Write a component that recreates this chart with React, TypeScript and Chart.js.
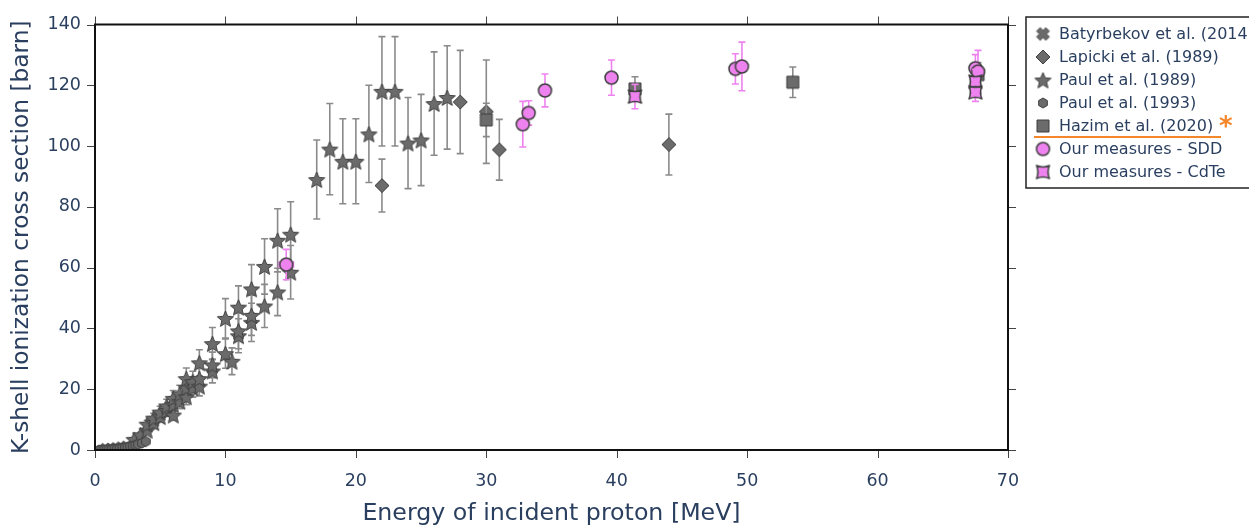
import React, { useEffect, useRef } from "react";
import { Chart, registerables } from "chart.js";

Chart.register(...registerables);

// ---------------- data ----------------
const batE = [0.8, 1.2, 1.6, 2.0, 2.4];
const batS = [0.1, 0.2, 0.35, 0.6, 0.9];
const batErr = [0.02, 0.03, 0.05, 0.08, 0.1];

const lapE = [22, 28, 30, 31, 44];
const lapS = [87, 114.5, 111.3, 98.8, 100.5];
const lapErr = [8.7, 17, 17, 10, 10];

const p89E = [3.0, 3.5, 4.0, 4.0, 4.5, 4.5, 5.0, 5.0, 5.5, 5.5, 6.0, 6.0, 6.0, 6.5, 6.5, 7.0, 7.0, 7.0, 7.5, 7.5, 8.0, 8.0, 8.0, 9.0, 9.0, 9.0, 10.0, 10.0, 10.5, 11.0, 11.0, 11.0, 12.0, 12.0, 12.0, 13.0, 13.0, 14.0, 14.0, 15.0, 15.0, 17, 18, 19, 20, 21, 22, 23, 24, 25, 26, 27];
const p89S = [3.5, 5.0, 6.5, 8.5, 9.0, 10.5, 11.0, 12.5, 13.0, 14.5, 11.5, 15.0, 17.0, 16.0, 18.5, 17.5, 20.5, 23.5, 20.5, 22.5, 21.0, 23.5, 28.7, 26.0, 28.0, 35.0, 31.7, 43.3, 29.2, 37.6, 39.2, 47.0, 42.0, 44.3, 53.0, 47.4, 60.4, 52.0, 69.0, 58.5, 71.0, 89, 99, 95, 95, 104, 118, 118, 101, 102, 114, 116];
const p89Err = [0.5, 0.8, 1.0, 1.3, 1.4, 1.6, 1.7, 1.9, 2.0, 2.2, 1.7, 2.3, 2.6, 2.4, 2.8, 2.6, 3.1, 3.5, 3.1, 3.4, 3.2, 3.5, 4.3, 3.9, 4.2, 5.3, 4.8, 6.5, 4.4, 5.6, 5.9, 7.0, 6.3, 6.6, 8.0, 7.1, 9.1, 7.8, 10.4, 8.8, 10.7, 13, 15, 14, 14, 16, 18, 18, 15, 15, 17, 17];

const p93E = [0.3, 0.5, 0.7, 0.9, 1.1, 1.3, 1.5, 1.7, 1.9, 2.1, 2.3, 2.5, 2.7, 2.9, 3.1, 3.3, 3.6, 3.9];
const p93S = [0.02, 0.05, 0.08, 0.12, 0.18, 0.25, 0.33, 0.42, 0.53, 0.65, 0.8, 0.95, 1.15, 1.35, 1.6, 1.85, 2.3, 2.8];
const p93Err = [0.01, 0.01, 0.01, 0.02, 0.02, 0.03, 0.03, 0.04, 0.05, 0.06, 0.07, 0.08, 0.1, 0.12, 0.14, 0.16, 0.2, 0.25];

const hazE = [30, 41.4, 53.5, 67.7];
const hazS = [108.6, 118.8, 121, 123.5];
const hazErr = [5.5, 4, 5, 4];

const sddE = [14.66, 32.8, 33.25, 34.5, 39.6, 49.1, 49.6, 67.5, 67.7];
const sddS = [61, 107.2, 110.9, 118.3, 122.5, 125.4, 126.2, 125.6, 124.5];
const sddErr = [5, 7.5, 4, 5.4, 5.8, 5, 8, 4.5, 7];
const sddXErr = [0.55, 0.3, 0.3, 0.3, 0.3, 0.3, 0.3, 0.3, 0.3];

const cdE = [41.4, 67.5, 67.5];
const cdS = [116.3, 121.2, 117.7];
const cdErr = [4, 4, 3];
const cdXErr = [0.3, 0.3, 0.3];

const xTicks = [0, 10, 20, 30, 40, 50, 60, 70];
const yTicks = [0, 20, 40, 60, 80, 100, 120, 140];

const xTitle = "Energy of incident proton [MeV]";
const yTitle = "K-shell ionization cross section [barn]";

const legendLabels = [
  "Batyrbekov et al. (2014)",
  "Lapicki et al. (1989)",
  "Paul et al. (1989)",
  "Paul et al. (1993)",
  "Hazim et al. (2020)",
  "Our measures - SDD",
  "Our measures - CdTe",
];

// ---------------- styles ----------------
const FONT = "'DejaVu Sans', Verdana, sans-serif";
const TEXT = "#2a3f5f";
const GRAY_FILL = "#6b6b6b";
const GRAY_STROKE = "#3f3f3f";
const PINK = "#ee82ee";
const GRAY_ERR = "rgba(138,138,138,1)";

function makeMarker(kind: string, size: number, fill: string, stroke: string, lw: number) {
  const dim = Math.ceil(size + 4);
  const c = document.createElement("canvas");
  c.width = dim;
  c.height = dim;
  const ctx = c.getContext("2d") as CanvasRenderingContext2D;
  const cx = dim / 2;
  const cy = dim / 2;
  const r = size / 2;
  ctx.beginPath();
  if (kind === "circle") {
    ctx.arc(cx, cy, r, 0, Math.PI * 2);
  } else if (kind === "square") {
    ctx.rect(cx - r, cy - r, 2 * r, 2 * r);
  } else if (kind === "diamond") {
    ctx.moveTo(cx, cy - r);
    ctx.lineTo(cx + r, cy);
    ctx.lineTo(cx, cy + r);
    ctx.lineTo(cx - r, cy);
  } else if (kind === "star") {
    for (let i = 0; i < 10; i++) {
      const a = -Math.PI / 2 + (i * Math.PI) / 5;
      const rr = i % 2 === 0 ? r : r * 0.45;
      const px = cx + rr * Math.cos(a);
      const py = cy + 1 + rr * Math.sin(a);
      if (i === 0) ctx.moveTo(px, py);
      else ctx.lineTo(px, py);
    }
  } else if (kind === "hexagon") {
    for (let i = 0; i < 6; i++) {
      const a = -Math.PI / 2 + (i * Math.PI) / 3;
      const px = cx + r * Math.cos(a);
      const py = cy + r * Math.sin(a);
      if (i === 0) ctx.moveTo(px, py);
      else ctx.lineTo(px, py);
    }
  } else if (kind === "x") {
    const w = r * 0.38;
    const pts = [
      [w, r], [w, w], [r, w], [r, -w], [w, -w], [w, -r],
      [-w, -r], [-w, -w], [-r, -w], [-r, w], [-w, w], [-w, r],
    ];
    const ca = Math.cos(Math.PI / 4);
    pts.forEach((p, i) => {
      const px = cx + (p[0] - p[1]) * ca;
      const py = cy + (p[0] + p[1]) * ca;
      if (i === 0) ctx.moveTo(px, py);
      else ctx.lineTo(px, py);
    });
  } else if (kind === "starsquare") {
    const k = r * 0.55;
    ctx.moveTo(cx - r, cy - r);
    ctx.quadraticCurveTo(cx, cy - k, cx + r, cy - r);
    ctx.quadraticCurveTo(cx + k, cy, cx + r, cy + r);
    ctx.quadraticCurveTo(cx, cy + k, cx - r, cy + r);
    ctx.quadraticCurveTo(cx - k, cy, cx - r, cy - r);
  }
  ctx.closePath();
  ctx.fillStyle = fill;
  ctx.fill();
  ctx.lineWidth = lw;
  ctx.strokeStyle = stroke;
  ctx.lineJoin = "round";
  ctx.stroke();
  return c;
}

function pts(xs: number[], ys: number[]) {
  return xs.map((x, i) => ({ x, y: ys[i] }));
}

export default function App() {
  const ref = useRef<HTMLCanvasElement | null>(null);

  useEffect(() => {
    document.body.style.margin = "0";
    const canvas = ref.current;
    if (!canvas) return;

    const mX = makeMarker("x", 13, GRAY_FILL, GRAY_STROKE, 1);
    const mDiamond = makeMarker("diamond", 14, GRAY_FILL, GRAY_STROKE, 1);
    const mStar = makeMarker("star", 17, GRAY_FILL, GRAY_STROKE, 1);
    const mHex = makeMarker("hexagon", 10, GRAY_FILL, GRAY_STROKE, 1);
    const mSquare = makeMarker("square", 12, GRAY_FILL, GRAY_STROKE, 1);
    const mCircle = makeMarker("circle", 13, PINK, GRAY_STROKE, 1.5);
    const mStarSq = makeMarker("starsquare", 13, PINK, GRAY_STROKE, 1.5);

    const markers = [mX, mDiamond, mStar, mHex, mSquare, mCircle, mStarSq];

    const series = [
      { e: batE, s: batS, err: batErr, xerr: null as number[] | null, color: GRAY_ERR },
      { e: lapE, s: lapS, err: lapErr, xerr: null, color: GRAY_ERR },
      { e: p89E, s: p89S, err: p89Err, xerr: null, color: GRAY_ERR },
      { e: p93E, s: p93S, err: p93Err, xerr: null, color: GRAY_ERR },
      { e: hazE, s: hazS, err: hazErr, xerr: null, color: GRAY_ERR },
      { e: sddE, s: sddS, err: sddErr, xerr: sddXErr, color: PINK },
      { e: cdE, s: cdS, err: cdErr, xerr: cdXErr, color: PINK },
    ];

    const datasets = series.map((sr, i) => ({
      label: legendLabels[i],
      data: pts(sr.e, sr.s),
      pointStyle: markers[i],
      pointRadius: 7,
      pointHoverRadius: 7,
      showLine: false,
      order: series.length - i,
    }));

    const errorBars = {
      id: "errorBars",
      beforeDatasetDraw(chart: any, args: any) {
        const sr = series[args.index];
        if (!sr) return;
        const ctx = chart.ctx;
        const xs = chart.scales.x;
        const ys = chart.scales.y;
        const a = chart.chartArea;
        ctx.save();
        ctx.beginPath();
        ctx.rect(a.left, a.top, a.right - a.left, a.bottom - a.top);
        ctx.clip();
        ctx.strokeStyle = sr.color;
        ctx.lineWidth = 1.6;
        const cap = 3.5;
        sr.e.forEach((e: number, i: number) => {
          const px = xs.getPixelForValue(e);
          const y0 = ys.getPixelForValue(sr.s[i] - sr.err[i]);
          const y1 = ys.getPixelForValue(sr.s[i] + sr.err[i]);
          ctx.beginPath();
          ctx.moveTo(px, y0);
          ctx.lineTo(px, y1);
          ctx.moveTo(px - cap, y0);
          ctx.lineTo(px + cap, y0);
          ctx.moveTo(px - cap, y1);
          ctx.lineTo(px + cap, y1);
          ctx.stroke();
          if (sr.xerr) {
            const py = ys.getPixelForValue(sr.s[i]);
            const x0 = xs.getPixelForValue(e - sr.xerr[i]);
            const x1 = xs.getPixelForValue(e + sr.xerr[i]);
            ctx.beginPath();
            ctx.moveTo(x0, py);
            ctx.lineTo(x1, py);
            ctx.moveTo(x0, py - cap);
            ctx.lineTo(x0, py + cap);
            ctx.moveTo(x1, py - cap);
            ctx.lineTo(x1, py + cap);
            ctx.stroke();
          }
        });
        ctx.restore();
      },
    };

    const frame = {
      id: "frame",
      afterDraw(chart: any) {
        const ctx = chart.ctx;
        const a = chart.chartArea;
        const xs = chart.scales.x;
        const ys = chart.scales.y;
        ctx.save();
        ctx.strokeStyle = "#444";
        ctx.lineWidth = 1;
        const tl = 8;
        xTicks.forEach((v) => {
          const px = Math.round(xs.getPixelForValue(v)) + 0.5;
          ctx.beginPath();
          ctx.moveTo(px, a.bottom);
          ctx.lineTo(px, a.bottom + tl);
          ctx.moveTo(px, a.top);
          ctx.lineTo(px, a.top - tl);
          ctx.stroke();
        });
        yTicks.forEach((v) => {
          const py = Math.round(ys.getPixelForValue(v)) + 0.5;
          ctx.beginPath();
          ctx.moveTo(a.left, py);
          ctx.lineTo(a.left - tl, py);
          ctx.moveTo(a.right, py);
          ctx.lineTo(a.right + tl, py);
          ctx.stroke();
        });
        ctx.strokeStyle = "#111";
        ctx.lineWidth = 2;
        ctx.strokeRect(a.left, a.top, a.right - a.left, a.bottom - a.top);

        // legend
        const lx = 1026;
        const ly = 17;
        ctx.lineWidth = 1.5;
        ctx.strokeStyle = "#222";
        ctx.fillStyle = "#fff";
        ctx.fillRect(lx, ly, 300, 171);
        ctx.strokeRect(lx, ly, 300, 171);
        ctx.font = `16px ${FONT}`;
        ctx.textBaseline = "middle";
        ctx.textAlign = "left";
        legendLabels.forEach((lab, i) => {
          const yy = 34 + i * 23;
          const m = markers[i];
          ctx.drawImage(m, 1043 - m.width / 2, yy - m.height / 2);
          ctx.fillStyle = TEXT;
          ctx.fillText(lab, 1059, yy + 1);
        });
        // orange highlight
        ctx.strokeStyle = "#f5862a";
        ctx.lineWidth = 2;
        ctx.beginPath();
        ctx.moveTo(1034, 137);
        ctx.lineTo(1221, 137);
        ctx.stroke();
        ctx.fillStyle = "#f5862a";
        ctx.font = `bold 26px ${FONT}`;
        ctx.textBaseline = "alphabetic";
        ctx.fillText("*", 1219, 135);
        ctx.restore();
      },
    };

    const chart = new Chart(canvas, {
      type: "scatter",
      data: { datasets: datasets as any },
      options: {
        animation: false,
        responsive: false,
        events: [],
        layout: { padding: { top: 16, right: 241, left: 0, bottom: 0 } },
        plugins: { legend: { display: false }, tooltip: { enabled: false } },
        scales: {
          x: {
            type: "linear",
            min: 0,
            max: 70,
            afterFit: (s: any) => {
              s.height = 76;
            },
            afterBuildTicks: (s: any) => {
              s.ticks = xTicks.map((v) => ({ value: v }));
            },
            grid: { display: false, drawTicks: false },
            border: { display: false },
            ticks: {
              color: TEXT,
              font: { family: FONT, size: 17.5 },
              padding: 21,
              maxRotation: 0,
            },
            title: {
              display: true,
              text: xTitle,
              color: TEXT,
              font: { family: FONT, size: 23.7, lineHeight: 1 },
              padding: { top: 0, bottom: 0 },
            },
          },
          y: {
            type: "linear",
            min: 0,
            max: 140,
            afterFit: (s: any) => {
              s.width = 95;
            },
            afterBuildTicks: (s: any) => {
              s.ticks = yTicks.map((v) => ({ value: v }));
            },
            grid: { display: false, drawTicks: false },
            border: { display: false },
            ticks: {
              color: TEXT,
              font: { family: FONT, size: 17.5 },
              padding: 14,
            },
            title: {
              display: true,
              text: yTitle,
              color: TEXT,
              font: { family: FONT, size: 23.3, lineHeight: 1 },
              padding: { top: 10, bottom: 0 },
            },
          },
        },
      },
      plugins: [errorBars, frame],
    });

    return () => {
      chart.destroy();
    };
  }, []);

  return (
    <div style={{ position: "relative", width: 1249, height: 526, background: "#fff" }}>
      <canvas ref={ref} width={1249} height={526} />
    </div>
  );
}
